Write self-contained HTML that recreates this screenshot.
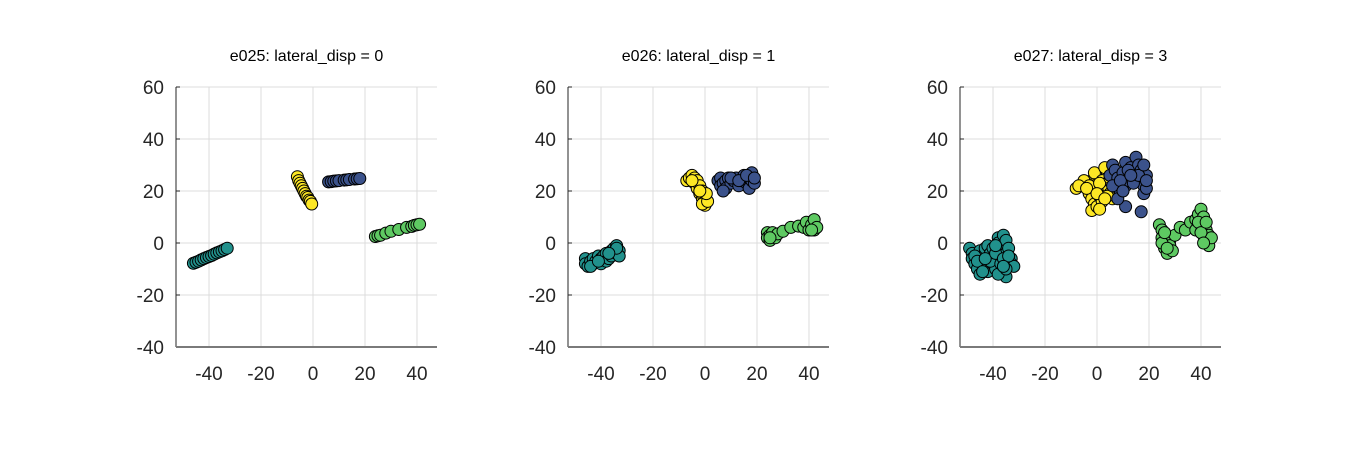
<!DOCTYPE html>
<html><head><meta charset="utf-8"><style>
html,body{margin:0;padding:0;background:#fff;}
svg{display:block;font-family:"Liberation Sans",sans-serif;}
</style></head><body>
<svg id="fig" width="1349" height="449"></svg>
<script>
const titles=["e025: lateral_disp = 0","e026: lateral_disp = 1","e027: lateral_disp = 3"];
const xTicks=[-40,-20,0,20,40];
const yTicks=[-40,-20,0,20,40,60];
const clusterColors=["#21918c","#fde725","#3b528b","#5ec962"];
const p1Teal=[[-46,-7.8],[-45,-7.4],[-44,-7],[-43,-6.5],[-42,-6],[-41,-5.6],[-40,-5.2],[-39,-4.8],[-38,-4.3],[-37,-3.8],[-36,-3.4],[-35,-3],[-34,-2.5],[-33,-2]];
const p1Yellow=[[-6,25.5],[-5.5,24],[-5,23],[-4.5,22],[-4,21],[-3.5,20],[-3,19],[-2.5,18],[-2,17.5],[-1.5,16.5],[-1,16],[-0.5,15]];
const p1Blue=[[6,23.5],[7,23.6],[8,23.8],[9,23.9],[10,24],[12,24.2],[13,24.3],[14,24.4],[16,24.6],[17,24.7],[18,24.8]];
const p1Green=[[24,2.5],[25,2.8],[26,3],[28,3.8],[30,4.5],[33,5.2],[36,6],[38,6.4],[39,6.8],[40,7],[41,7.2]];
const p2Teal=[[-46,-6],[-46,-8],[-45,-9],[-44,-7],[-43,-8],[-43,-6],[-42,-7],[-41,-5],[-40,-6],[-40,-8],[-39,-5],[-38,-4],[-38,-7],[-37,-6],[-36,-3],[-36,-5],[-35,-2],[-34,-1],[-34,-4],[-33,-3],[-33,-5],[-34,-2],[-44,-9],[-41,-7],[-37,-4]];
const p2Yellow=[[-7,24],[-6,25],[-5,26],[-4,25],[-4,23],[-3,24],[-3,21],[-2,22],[-2,19],[-1,20],[-1,17],[-0.5,18],[0,16],[0,14.5],[-1,15],[1,16],[0.5,19],[-5,24],[-2,20]];
const p2Blue=[[5,24],[6,25],[6,22],[7,23],[8,24],[8,21],[9,25],[10,23],[11,24],[12,25],[13,22],[14,24],[15,26],[16,23],[17,21],[17,25],[18,27],[18,24],[19,23],[7,20],[10,25],[13,24],[16,26],[19,25]];
const p2Green=[[24,4],[24,2],[25,1],[25,3],[26,4],[27,2],[28,3.5],[30,4.5],[33,6],[36,6.5],[38,6],[39,8],[40,5],[41,7],[42,9],[42,5],[43,6],[25,2],[41,5]];
const p3Teal=[[-49,-2],[-48,-4],[-48,-6],[-47,-8],[-46,-10],[-45,-12],[-45,-3],[-44,-5],[-44,-7],[-43,-9],[-42,-11],[-43,-2],[-42,-1],[-41,-4],[-40,-6],[-40,-8],[-39,-10],[-38,2],[-38,0],[-37,-3],[-37,-5],[-36,3],[-36,-1],[-35,1],[-35,-4],[-35,-13],[-34,-2],[-33,-6],[-33,-8],[-32,-9],[-38,-12],[-41,-7],[-47,-5],[-46,-7],[-44,-11],[-43,-6],[-40,-2],[-39,-4],[-39,-1],[-37,-8],[-36,-6],[-35,-10],[-34,-5],[-36,-9]];
const p3Yellow=[[-8,21],[-6,22],[-4,23],[-2,24],[0,25],[2,26],[4,27],[6,28],[-5,24],[-1,27],[3,29],[-3,19],[-2,17],[-1,15],[-2,12.5],[0,14],[1,18],[2,16],[3,20],[4,22],[5,19],[6,17],[7,23],[0,21],[-1,22],[2,24],[4,18],[-7,22],[-3,22],[1,23],[5,25],[-4,21],[0,19],[3,17],[1,13]];
const p3Blue=[[5,26],[6,30],[7,28],[8,25],[9,20],[10,27],[11,31],[11,22],[12,24],[13,29],[14,26],[15,33],[16,30],[17,28],[17,24],[18,22],[18,19],[19,21],[19,26],[11,14],[17,12],[8,17],[14,23],[6,22],[9,24],[12,28],[16,26],[18,30],[19,24],[10,20],[13,26]];
const p3Green=[[24,7],[25,5],[25,2],[26,0],[26,-2],[27,-4],[28,1],[28,-1],[29,-3],[30,3],[32,6],[34,5],[36,8],[38,5],[38,9],[39,11],[40,13],[40,7],[41,3],[41,10],[42,1],[42,5],[43,-1],[43,3],[44,2],[25,0],[26,4],[27,-2],[39,8],[40,4],[42,8],[41,0]];
const panels=[[p1Teal,p1Yellow,p1Blue,p1Green],[p2Teal,p2Yellow,p2Blue,p2Green],[p3Teal,p3Yellow,p3Blue,p3Green]];
const NS="http://www.w3.org/2000/svg";
const svg=document.getElementById('fig');
function mk(t,a,p){const e=document.createElementNS(NS,t);for(const k in a)e.setAttribute(k,a[k]);(p||svg).appendChild(e);return e;}
const xMin=-52.7,xMax=47.7,yMin=-40,yMax=60;
const offsets=[0,392,784];
panels.forEach((clusters,pi)=>{
  const L=176+offsets[pi],R=437+offsets[pi],T=87,B=347;
  const sx=v=>L+(v-xMin)/(xMax-xMin)*(R-L);
  const sy=v=>B-(v-yMin)/(yMax-yMin)*(B-T);
  const g=mk('g',{});
  
  
  xTicks.forEach(t=>{const l=mk('line',{x1:sx(t),x2:sx(t),y1:T,y2:B,stroke:'#dcdcdc','stroke-width':1},g);
    
    const tx=mk('text',{x:sx(t),y:B+33,'text-anchor':'middle','font-size':19,fill:'#262626'},g);tx.textContent=t;
    });
  yTicks.forEach(t=>{if(t>-40){const l=mk('line',{x1:L,x2:R,y1:sy(t),y2:sy(t),stroke:'#dcdcdc','stroke-width':1},g);
    }
    mk('line',{x1:L,x2:L+4,y1:sy(t),y2:sy(t),stroke:'#262626'},g);
    const tx=mk('text',{x:L-12,y:sy(t)+7,'text-anchor':'end','font-size':19,fill:'#262626'},g);tx.textContent=t;
    });
  const ax=mk('line',{x1:L,x2:L,y1:T,y2:B,stroke:'#262626','stroke-width':1},g);
  
  const bx=mk('line',{x1:L,x2:R,y1:B,y2:B,stroke:'#7a7a7a','stroke-width':2},g);
  
  const ti=mk('text',{x:(L+R)/2,y:61,'text-anchor':'middle','font-size':16,fill:'#000'},g);ti.textContent=titles[pi];
  
  clusters.forEach((pts,ci)=>{pts.forEach(p=>{
    const c=mk('circle',{cx:sx(p[0]),cy:sy(p[1]),r:6,fill:clusterColors[ci],stroke:'#000','stroke-width':1},g);
    
    
  });});
});
</script>
</body></html>
